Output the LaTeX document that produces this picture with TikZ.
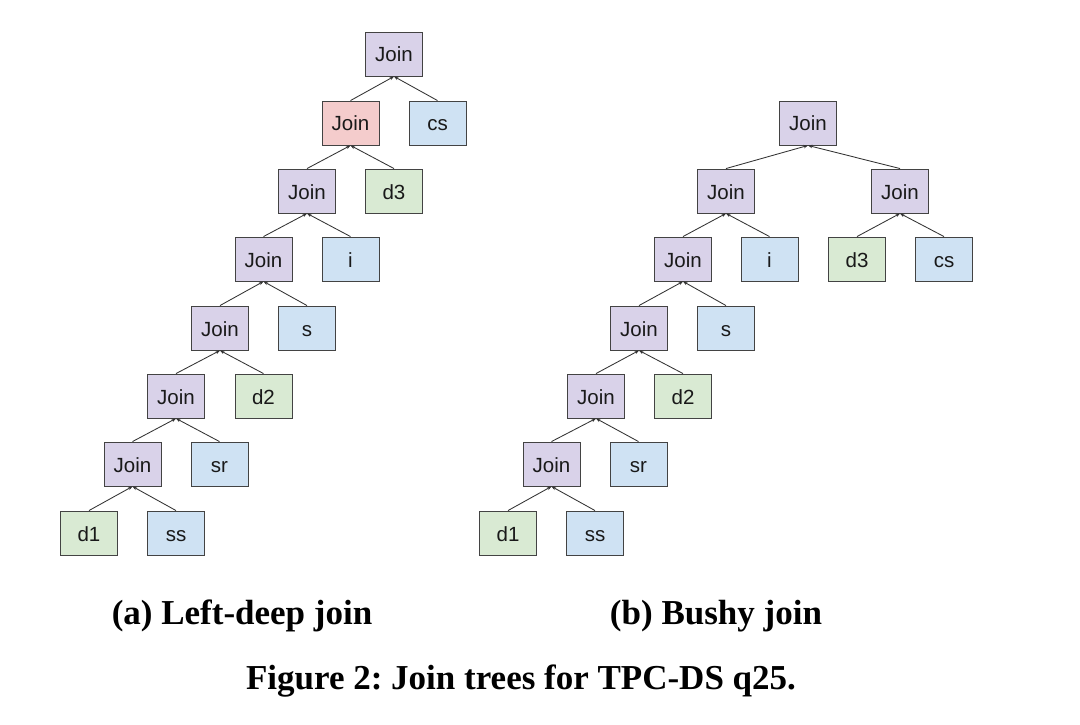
\documentclass[tikz,border=0pt]{standalone}
\usepackage{fontspec}
\setmainfont{Liberation Serif}
\newfontfamily\boxfont{Liberation Sans}
\usetikzlibrary{arrows.meta}
\definecolor{cpurple}{HTML}{D9D2E9}
\definecolor{cred}{HTML}{F4CCCC}
\definecolor{cblue}{HTML}{CFE2F3}
\definecolor{cgreen}{HTML}{D9EAD3}
\definecolor{cborder}{HTML}{434343}
\definecolor{cedge}{HTML}{333333}
\tikzset{
  tbox/.style={draw=cborder, line width=0.9pt, minimum width=57pt, minimum height=44pt, inner sep=0pt,
    text height=16pt, text depth=0pt,
    font=\boxfont\fontsize{20.5}{23}\selectfont, text=black!90},
  jn/.style={tbox, fill=cpurple},
  rj/.style={tbox, fill=cred},
  bl/.style={tbox, fill=cblue},
  gr/.style={tbox, fill=cgreen},
  conn/.style={draw=cedge, line width=0.85pt, -{Stealth[length=4.5pt,width=3.5pt]}},
  captext/.style={anchor=base, font=\bfseries\fontsize{35}{40}\selectfont}
}
\begin{document}
\frenchspacing
\begin{tikzpicture}[x=1pt,y=-1pt]
\useasboundingbox[fill=white] (0,0) rectangle (1080,725);
% Left-deep tree
\node[jn] (a1) at (394,54) {Join};
\node[rj] (a2) at (350.5,123) {Join};
\node[bl] (acs) at (437.5,123) {cs};
\node[jn] (a3) at (307,191) {Join};
\node[gr] (ad3) at (394,191) {d3};
\node[jn] (a4) at (263.5,259) {Join};
\node[bl] (ai) at (350.5,259) {i};
\node[jn] (a5) at (220,328) {Join};
\node[bl] (as) at (307,328) {s};
\node[jn] (a6) at (176,396) {Join};
\node[gr] (ad2) at (263.5,396) {d2};
\node[jn] (a7) at (132.5,464) {Join};
\node[bl] (asr) at (219.5,464) {sr};
\node[gr] (ad1) at (89,533) {d1};
\node[bl] (ass) at (176,533) {ss};
\foreach \c/\p in {a2/a1,acs/a1,a3/a2,ad3/a2,a4/a3,ai/a3,a5/a4,as/a4,a6/a5,ad2/a5,a7/a6,asr/a6,ad1/a7,ass/a7}
  \draw[conn] (\c.north) -- (\p.south);
% Bushy tree
\node[jn] (b1) at (808,123) {Join};
\node[jn] (b2) at (726,191) {Join};
\node[jn] (b3) at (900,191) {Join};
\node[jn] (b4) at (683,259) {Join};
\node[bl] (bi) at (769.5,259) {i};
\node[gr] (bd3) at (857,259) {d3};
\node[bl] (bcs) at (944,259) {cs};
\node[jn] (b5) at (639,328) {Join};
\node[bl] (bs) at (726,328) {s};
\node[jn] (b6) at (596,396) {Join};
\node[gr] (bd2) at (683,396) {d2};
\node[jn] (b7) at (551.5,464) {Join};
\node[bl] (bsr) at (638.5,464) {sr};
\node[gr] (bd1) at (508,533) {d1};
\node[bl] (bss) at (595,533) {ss};
\foreach \c/\p in {b2/b1,b3/b1,b4/b2,bi/b2,bd3/b3,bcs/b3,b5/b4,bs/b4,b6/b5,bd2/b5,b7/b6,bsr/b6,bd1/b7,bss/b7}
  \draw[conn] (\c.north) -- (\p.south);
% Captions
\node[captext] (capa) at (242,624) {(a) Left-deep join};
\node[captext] (capb) at (716,624) {(b) Bushy join};
\node[captext] (capf) at (521,689) {Figure 2: Join trees for TPC-DS q25.};
\end{tikzpicture}
\end{document}
